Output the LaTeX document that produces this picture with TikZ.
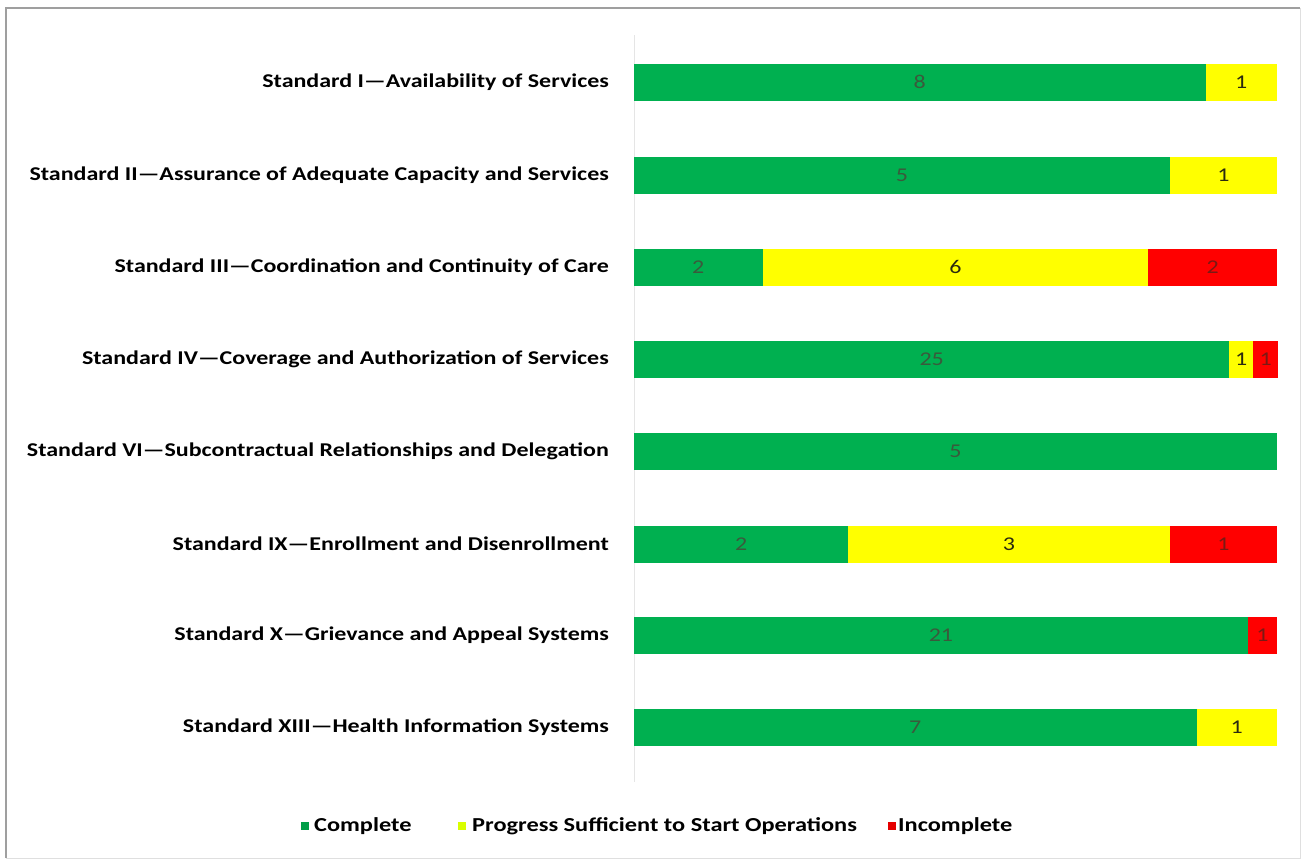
\documentclass[tikz,border=0pt]{standalone}
\usepackage{fontspec}
\setmainfont[FakeStretch=1.23]{Carlito}
\definecolor{cgreen}{HTML}{00B050}
\definecolor{cyellow}{HTML}{FFFF00}
\definecolor{cred}{HTML}{FF0000}
\definecolor{tgreen}{HTML}{3A5A3C}
\definecolor{tred}{HTML}{7A1A14}
\definecolor{tyel}{HTML}{2A2A10}
\tikzset{
  seg/.style={anchor=west, inner sep=0pt, minimum height=37pt, outer sep=0pt,
    font=\fontsize{19.5}{19.5}\selectfont},
  gseg/.style={seg, fill=cgreen, text=tgreen},
  yseg/.style={seg, fill=cyellow, text=tyel},
  rseg/.style={seg, fill=cred, text=tred},
  lab/.style={anchor=east, inner sep=0pt, font=\bfseries\fontsize{19.5}{19.5}\selectfont},
  legtxt/.style={anchor=west, inner sep=0pt, font=\bfseries\fontsize{19.8}{19.8}\selectfont},
  legsq/.style={inner sep=0pt, minimum size=8pt},
}
\begin{document}
\begin{tikzpicture}[x=1pt,y=-1pt]
\useasboundingbox (0,0) rectangle (1302,860);
% frame
\draw[gray!25, line width=1pt] (1300,8) -- (1300,858) -- (6,858);
\draw[gray!75, line width=2pt] (6,858) -- (6,8) -- (1300,8);
% axis
\draw[gray!20, line width=1pt] (634,35) -- (634,782);
\coordinate (b1) at (634,82);
\coordinate (b2) at (634,175);
\coordinate (b3) at (634,267);
\coordinate (b4) at (634,359);
\coordinate (b5) at (634,451);
\coordinate (b6) at (634,544);
\coordinate (b7) at (634,635);
\coordinate (b8) at (634,727);
% labels
\node[lab] (l1) at (609,82) {Standard I—Availability of Services};
\node[lab] (l2) at (609,175) {Standard II—Assurance of Adequate Capacity and Services};
\node[lab] (l3) at (609,267) {Standard III—Coordination and Continuity of Care};
\node[lab] (l4) at (609,359) {Standard IV—Coverage and Authorization of Services};
\node[lab] (l5) at (609,451) {Standard VI—Subcontractual Relationships and Delegation};
\node[lab] (l6) at (609,544) {Standard IX—Enrollment and Disenrollment};
\node[lab] (l7) at (609,635) {Standard X—Grievance and Appeal Systems};
\node[lab] (l8) at (609,727) {Standard XIII—Health Information Systems};
% bars
\node[gseg, minimum width=571.6pt] (g1) at (b1) {8};
\node[yseg, minimum width=71.4pt] (y1) at (g1.east) {1};
\node[gseg, minimum width=535.8pt] (g2) at (b2) {5};
\node[yseg, minimum width=107.2pt] (y2) at (g2.east) {1};
\node[gseg, minimum width=128.6pt] (g3) at (b3) {2};
\node[yseg, minimum width=385.8pt] (y3) at (g3.east) {6};
\node[rseg, minimum width=128.6pt] (r3) at (y3.east) {2};
\node[gseg, minimum width=595.4pt] (g4) at (b4) {25};
\node[yseg, minimum width=23.8pt] (y4) at (g4.east) {1};
\node[rseg, minimum width=25pt] (r4) at (y4.east) {1};
\node[gseg, minimum width=643pt] (g5) at (b5) {5};
\node[gseg, minimum width=214.3pt] (g6) at (b6) {2};
\node[yseg, minimum width=321.5pt] (y6) at (g6.east) {3};
\node[rseg, minimum width=107.2pt] (r6) at (y6.east) {1};
\node[gseg, minimum width=613.8pt] (g7) at (b7) {21};
\node[rseg, minimum width=29.2pt] (r7) at (g7.east) {1};
\node[gseg, minimum width=562.6pt] (g8) at (b8) {7};
\node[yseg, minimum width=80.4pt] (y8) at (g8.east) {1};
% legend
\node[legsq, fill=cgreen!90!black] (sq1) at (305,826) {};
\node[legtxt] (t1) at (314,826) {Complete};
\node[legsq, fill=cyellow!85!green] (sq2) at (462,826) {};
\node[legtxt] (t2) at (472,826) {Progress Sufficient to Start Operations};
\node[legsq, fill=cred!90!black] (sq3) at (892,826) {};
\node[legtxt] (t3) at (898,826) {Incomplete};
\end{tikzpicture}
\end{document}
